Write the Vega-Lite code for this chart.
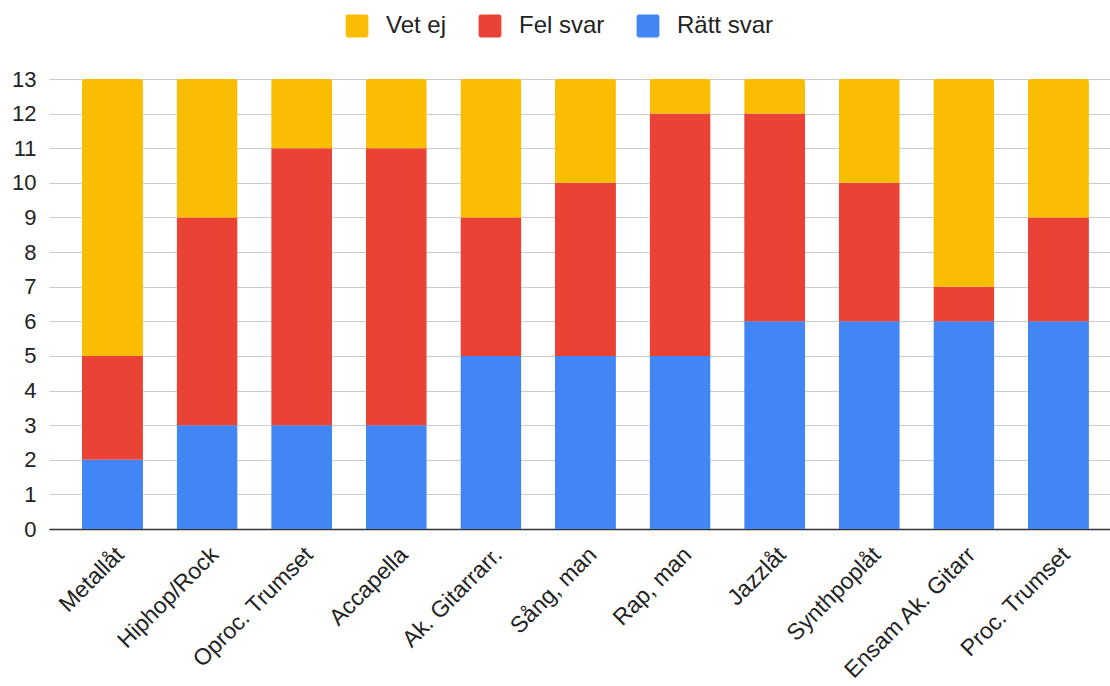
{
  "$schema": "https://vega.github.io/schema/vega-lite/v6.json",
  "autosize": "none",
  "width": 1061,
  "height": 450,
  "padding": {"left": 49, "top": 79, "right": 0, "bottom": 157},
  "background": "#ffffff",
  "data": {
    "values": [
      {"låt": "Metallåt", "svar": "Rätt svar", "ordning": 1, "antal": 2},
      {"låt": "Metallåt", "svar": "Fel svar", "ordning": 2, "antal": 3},
      {"låt": "Metallåt", "svar": "Vet ej", "ordning": 3, "antal": 8},
      {"låt": "Hiphop/Rock", "svar": "Rätt svar", "ordning": 1, "antal": 3},
      {"låt": "Hiphop/Rock", "svar": "Fel svar", "ordning": 2, "antal": 6},
      {"låt": "Hiphop/Rock", "svar": "Vet ej", "ordning": 3, "antal": 4},
      {"låt": "Oproc. Trumset", "svar": "Rätt svar", "ordning": 1, "antal": 3},
      {"låt": "Oproc. Trumset", "svar": "Fel svar", "ordning": 2, "antal": 8},
      {"låt": "Oproc. Trumset", "svar": "Vet ej", "ordning": 3, "antal": 2},
      {"låt": "Accapella", "svar": "Rätt svar", "ordning": 1, "antal": 3},
      {"låt": "Accapella", "svar": "Fel svar", "ordning": 2, "antal": 8},
      {"låt": "Accapella", "svar": "Vet ej", "ordning": 3, "antal": 2},
      {"låt": "Ak. Gitarrarr.", "svar": "Rätt svar", "ordning": 1, "antal": 5},
      {"låt": "Ak. Gitarrarr.", "svar": "Fel svar", "ordning": 2, "antal": 4},
      {"låt": "Ak. Gitarrarr.", "svar": "Vet ej", "ordning": 3, "antal": 4},
      {"låt": "Sång, man", "svar": "Rätt svar", "ordning": 1, "antal": 5},
      {"låt": "Sång, man", "svar": "Fel svar", "ordning": 2, "antal": 5},
      {"låt": "Sång, man", "svar": "Vet ej", "ordning": 3, "antal": 3},
      {"låt": "Rap, man", "svar": "Rätt svar", "ordning": 1, "antal": 5},
      {"låt": "Rap, man", "svar": "Fel svar", "ordning": 2, "antal": 7},
      {"låt": "Rap, man", "svar": "Vet ej", "ordning": 3, "antal": 1},
      {"låt": "Jazzlåt", "svar": "Rätt svar", "ordning": 1, "antal": 6},
      {"låt": "Jazzlåt", "svar": "Fel svar", "ordning": 2, "antal": 6},
      {"låt": "Jazzlåt", "svar": "Vet ej", "ordning": 3, "antal": 1},
      {"låt": "Synthpoplåt", "svar": "Rätt svar", "ordning": 1, "antal": 6},
      {"låt": "Synthpoplåt", "svar": "Fel svar", "ordning": 2, "antal": 4},
      {"låt": "Synthpoplåt", "svar": "Vet ej", "ordning": 3, "antal": 3},
      {"låt": "Ensam Ak. Gitarr", "svar": "Rätt svar", "ordning": 1, "antal": 6},
      {"låt": "Ensam Ak. Gitarr", "svar": "Fel svar", "ordning": 2, "antal": 1},
      {"låt": "Ensam Ak. Gitarr", "svar": "Vet ej", "ordning": 3, "antal": 6},
      {"låt": "Proc. Trumset", "svar": "Rätt svar", "ordning": 1, "antal": 6},
      {"låt": "Proc. Trumset", "svar": "Fel svar", "ordning": 2, "antal": 3},
      {"låt": "Proc. Trumset", "svar": "Vet ej", "ordning": 3, "antal": 4}
    ]
  },
  "mark": {"type": "bar", "cornerRadiusEnd": 3},
  "encoding": {
    "x": {
      "field": "låt",
      "type": "nominal",
      "sort": null,
      "scale": {"paddingInner": 0.355, "paddingOuter": 0.2855, "align": 0.61},
      "axis": {
        "title": null,
        "labelAngle": -45,
        "labelFontSize": 23,
        "labelLimit": 400,
        "labelColor": "#222222",
        "labelPadding": 14,
        "ticks": false,
        "domain": true,
        "domainColor": "#333333",
        "domainWidth": 1.5,
        "grid": false
      }
    },
    "y": {
      "field": "antal",
      "type": "quantitative",
      "aggregate": "sum",
      "stack": "zero",
      "scale": {"domain": [0, 13], "nice": false},
      "axis": {
        "title": null,
        "values": [0, 1, 2, 3, 4, 5, 6, 7, 8, 9, 10, 11, 12, 13],
        "labelFontSize": 22,
        "labelColor": "#222222",
        "labelPadding": 13,
        "ticks": false,
        "domain": false,
        "gridColor": "#cccccc",
        "gridWidth": 1
      }
    },
    "order": {"field": "ordning", "type": "quantitative"},
    "color": {
      "field": "svar",
      "type": "nominal",
      "scale": {
        "domain": ["Vet ej", "Fel svar", "Rätt svar"],
        "range": ["#FBBC04", "#EA4335", "#4285F4"]
      },
      "legend": {
        "title": null,
        "orient": "none",
        "legendX": 296,
        "legendY": -65,
        "direction": "horizontal",
        "labelFontSize": 24,
        "labelColor": "#222222",
        "labelOffset": 17,
        "symbolSize": 520,
        "symbolStrokeWidth": 0,
        "symbolOpacity": 1,
        "symbolType": "M -0.8,-1 H 0.8 Q 1,-1 1,-0.8 V 0.8 Q 1,1 0.8,1 H -0.8 Q -1,1 -1,0.8 V -0.8 Q -1,-1 -0.8,-1 Z",
        "columnPadding": 31
      }
    }
  },
  "config": {
    "font": "Liberation Sans",
    "view": {"stroke": null}
  }
}
